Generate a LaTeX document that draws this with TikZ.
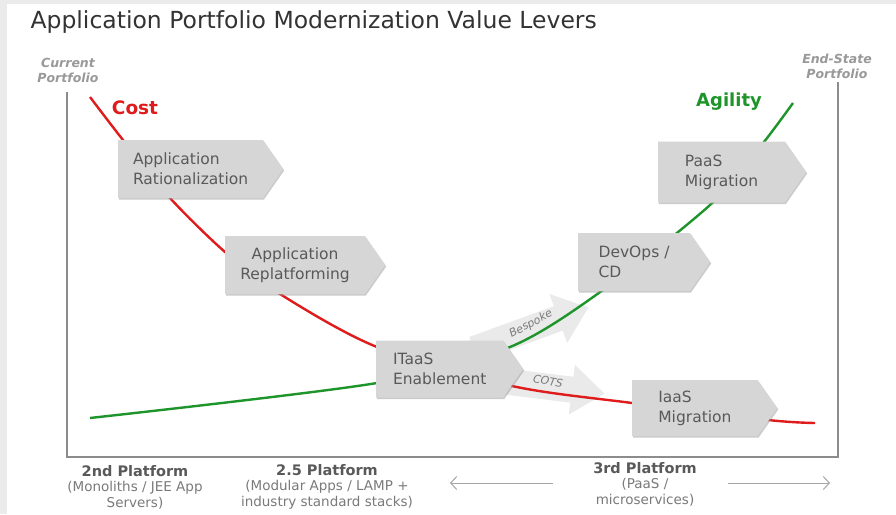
\documentclass[tikz,border=0pt]{standalone}
\usepackage{fontspec}
\setmainfont{DejaVu Sans}
\usetikzlibrary{arrows.meta,positioning,shapes.symbols,shadows}

\definecolor{costred}{HTML}{E01B1B}
\definecolor{agilegreen}{HTML}{1E952A}
\definecolor{boxgray}{HTML}{D6D6D6}
\definecolor{boxtext}{HTML}{595959}
\definecolor{axisgray}{HTML}{8C8C8C}
\definecolor{fadegray}{HTML}{EAEAEA}
\definecolor{subgray}{HTML}{7A7A7A}

\tikzset{
  lever/.style={signal, signal to=east, signal pointer angle=110, fill=boxgray,
    text=boxtext, font=\fontsize{15.5}{20}\selectfont, align=left, anchor=west,
    inner xsep=12pt, minimum height=58pt,
    drop shadow={shadow xshift=1pt, shadow yshift=-1.5pt, fill=black!40, opacity=0.5}},
  fade/.style={fill=fadegray, draw=none},
  fadetext/.style={font=\itshape\fontsize{11}{12}\selectfont, text=subgray, inner sep=1pt},
  curve/.style={line width=2.4pt, line join=round},
  frame/.style={draw=axisgray, line width=1.1pt},
  endlbl/.style={font=\bfseries\itshape\fontsize{12.5}{15}\selectfont, text=black!40, align=center},
  platlbl/.style={font=\bfseries\fontsize{14.5}{16}\selectfont, text=black!65},
  platsub/.style={font=\fontsize{13.5}{16}\selectfont, text=subgray, align=center, inner sep=0pt},
  spanarrow/.style={draw=black!35, line width=1pt, -{Straight Barb[length=6pt,width=13pt]}}
}

\begin{document}
\begin{tikzpicture}[x=1pt, y=-1pt]
  % page and screenshot border
  \fill[black!8] (0,0) rectangle (896,514);
  \fill[white] (7,4) rectangle (896,514);
  \useasboundingbox (0,0) rectangle (896,514);

  \node[anchor=west, font=\fontsize{23.5}{28}\selectfont, text=black!80] (title) at (27,22)
    {Application Portfolio Modernization Value Levers};

  % frame
  \node[endlbl] (curport) at (68,70) {Current\\Portfolio};
  \node[endlbl] (endport) at (837,66) {End-State\\Portfolio};
  \coordinate (ltop) at (67,92);
  \coordinate (lbot) at (67,457);
  \coordinate (rtop) at (838,82);
  \coordinate (rbot) at (838,457);
  \draw[frame] (ltop) -- (lbot) -- (rbot) -- (rtop);

  % faint direction arrows
  \fill[fade, shift={(532,328)}, rotate=20]
    (-62,-13) -- (28,-13) -- (28,-26) -- (60,0) -- (28,26) -- (28,13) -- (-62,13) -- cycle;
  \fill[fade, shift={(550,387)}, rotate=-7]
    (-55,-13) -- (22,-13) -- (22,-25) -- (55,0) -- (22,25) -- (22,13) -- (-55,13) -- cycle;
  \node[fadetext, rotate=28] (bespoke) at (531,324) {Bespoke};
  \node[fadetext, rotate=-10] (cots) at (548,381) {COTS};

  % cost curve
  \coordinate (c1) at (90,97);
  \coordinate (c2) at (123,140);
  \coordinate (c3) at (170,198);
  \coordinate (c4) at (225,252);
  \coordinate (c5) at (280,294);
  \coordinate (c6) at (377,347);
  \coordinate (c7) at (512,386);
  \coordinate (c8) at (632,403);
  \coordinate (c9) at (768,420);
  \coordinate (c10) at (815,423);
  \draw[curve, costred] plot[smooth, tension=0.5] coordinates {(c1) (c2) (c3) (c4) (c5) (c6) (c7) (c8) (c9) (c10)};

  % agility curve
  \coordinate (g1) at (90,418);
  \coordinate (g2) at (377,383);
  \coordinate (g3) at (510,347);
  \coordinate (g4) at (603,290);
  \coordinate (g5) at (710,205);
  \coordinate (g6) at (760,147);
  \coordinate (g7) at (793,103);
  \draw[curve, agilegreen] plot[smooth, tension=0.5] coordinates {(g1) (g2) (g3) (g4) (g5) (g6) (g7)};

  \node[font=\bfseries\fontsize{18.5}{20}\selectfont, text=costred] (cost) at (135,108) {Cost};
  \node[font=\bfseries\fontsize{18}{20}\selectfont, text=agilegreen] (agility) at (729,102) {Agility};

  % levers
  \node[lever, minimum width=165pt] (rational) at (118,169) {Application\\Rationalization};
  \node[lever, minimum width=160pt, align=center] (replat) at (225,265) {Application\\Replatforming};
  \node[lever, minimum width=147pt, minimum height=57pt] (itaas) at (376,369) {ITaaS\\Enablement};
  \node[lever, minimum width=132pt] (devops) at (578,262) {DevOps /\\CD};
  \node[lever, minimum width=148pt, minimum height=61pt] (paas) at (658,172) {PaaS\\Migration};
  \node[lever, minimum width=145pt, minimum height=56pt] (iaas) at (632,408) {IaaS\\Migration};

  % platforms
  \node[platlbl] (plat2) at (135,471) {2nd Platform};
  \node[platsub, below=1pt of plat2] (plat2sub) {(Monoliths / JEE App\\Servers)};
  \node[platlbl] (plat25) at (327,470) {2.5 Platform};
  \node[platsub, below=1pt of plat25] (plat25sub) {(Modular Apps / LAMP +\\industry standard stacks)};
  \node[platlbl] (plat3) at (645,468) {3rd Platform};
  \node[platsub, below=1pt of plat3] (plat3sub) {(PaaS /\\microservices)};

  \coordinate (lstart) at (553,483);
  \coordinate (lspan) at (450,483);
  \coordinate (rstart) at (728,483);
  \coordinate (rspan) at (830,483);
  \draw[spanarrow] (lstart) -- (lspan);
  \draw[spanarrow] (rstart) -- (rspan);
\end{tikzpicture}
\end{document}
